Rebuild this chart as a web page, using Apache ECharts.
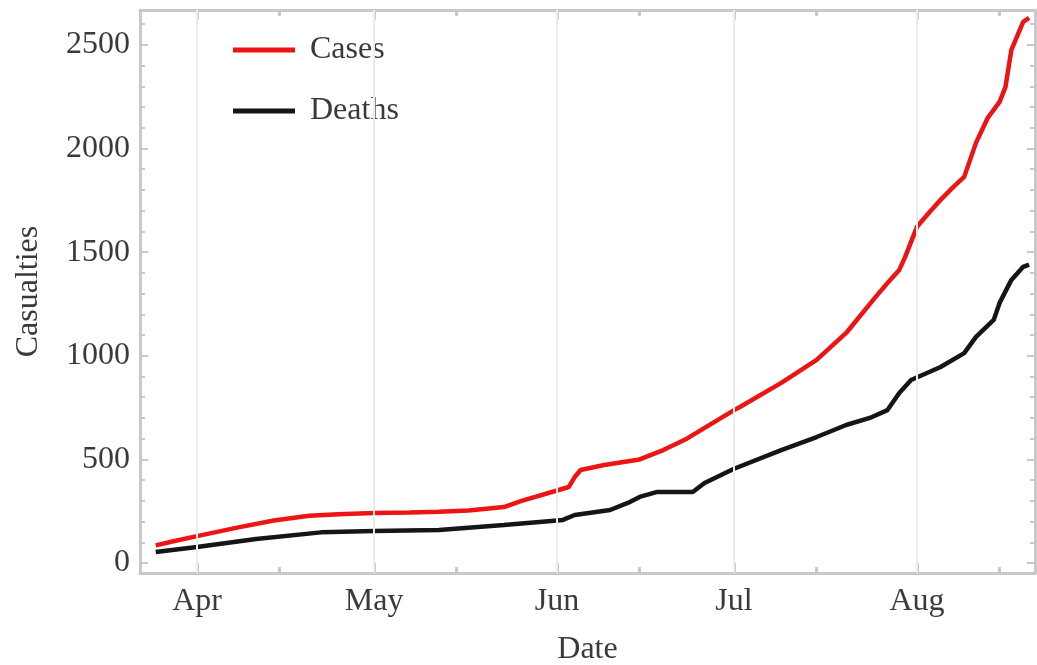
<!DOCTYPE html>
<html>
<head>
<meta charset="utf-8">
<title>Casualties</title>
<script src="https://cdn.jsdelivr.net/npm/echarts@6/dist/echarts.min.js"></script>
<style>
  html, body { margin: 0; padding: 0; background: #fff; }
  #chart { width: 1037px; height: 665px; }
</style>
</head>
<body>
<div id="chart"></div>
<script>
// values
const caseDates = ['2020-03-25', '2020-03-28', '2020-04-01', '2020-04-08', '2020-04-14', '2020-04-20', '2020-04-25',
  '2020-05-01', '2020-05-07', '2020-05-12', '2020-05-17', '2020-05-23', '2020-05-26', '2020-06-01', '2020-06-03',
  '2020-06-04', '2020-06-05', '2020-06-09', '2020-06-15', '2020-06-19', '2020-06-23', '2020-07-01', '2020-07-02',
  '2020-07-09', '2020-07-15', '2020-07-20', '2020-07-25', '2020-07-27', '2020-07-29', '2020-07-30', '2020-08-01',
  '2020-08-03', '2020-08-05', '2020-08-07', '2020-08-09', '2020-08-11', '2020-08-13', '2020-08-15', '2020-08-16',
  '2020-08-17', '2020-08-19', '2020-08-20'];
const caseValues = [85, 105, 130, 172, 205, 228, 236,
  241, 244, 247, 254, 270, 300, 350, 367,
  415, 449, 473, 500, 545, 600, 738, 753,
  869, 980, 1110, 1284, 1351, 1414, 1477, 1622,
  1689, 1752, 1810, 1863, 2027, 2148, 2225, 2297,
  2476, 2611, 2630];

const deathDates = ['2020-03-25', '2020-04-01', '2020-04-11', '2020-04-22', '2020-05-01', '2020-05-12', '2020-05-23',
  '2020-06-02', '2020-06-04', '2020-06-10', '2020-06-13', '2020-06-15', '2020-06-18', '2020-06-24', '2020-06-26',
  '2020-07-01', '2020-07-09', '2020-07-15', '2020-07-20', '2020-07-24', '2020-07-27', '2020-07-29', '2020-07-31',
  '2020-08-05', '2020-08-09', '2020-08-11', '2020-08-14', '2020-08-15', '2020-08-17', '2020-08-19', '2020-08-20'];
const deathValues = [53, 77, 116, 148, 155, 160, 183,
  208, 232, 256, 290, 319, 343, 343, 386,
  455, 545, 608, 666, 700, 738, 820, 883,
  946, 1013, 1091, 1173, 1255, 1366, 1429, 1440];

const monthTicks = ['2020-04-01', '2020-05-01', '2020-06-01', '2020-07-01', '2020-08-01'];
const midMonthTicks = ['2020-04-15', '2020-05-15', '2020-06-15', '2020-07-15', '2020-08-15'];
const monthNames = ['Jan', 'Feb', 'Mar', 'Apr', 'May', 'Jun', 'Jul', 'Aug', 'Sep', 'Oct', 'Nov', 'Dec'];
const yTicks = [0, 500, 1000, 1500, 2000, 2500];
const yMinorTicks = [0, 100, 200, 300, 400, 500, 600, 700, 800, 900, 1000, 1100, 1200, 1300,
  1400, 1500, 1600, 1700, 1800, 1900, 2000, 2100, 2200, 2300, 2400, 2500, 2600];

const ts = s => +echarts.time.parse(s);
const font = 'Liberation Serif';
const axisGray = '#c9c9c9';

const chart = echarts.init(document.getElementById('chart'));

const xMin = ts('2020-03-22 08:00');
const xMax = ts('2020-08-21');
const yMin = -48;
const yMax = 2668;

// dates are kept as timestamps on a value axis so the tick lists can be given directly
const xAxisPart = (position, ticks, len, withLabels, withLine) => ({
  type: 'value',
  position: position,
  min: xMin,
  max: xMax,
  axisLine: { show: withLine, onZero: false, lineStyle: { color: axisGray, width: 3 } },
  axisTick: { show: true, inside: true, length: len, customValues: ticks.map(ts),
    lineStyle: { color: axisGray, width: 3 } },
  axisLabel: withLabels ? {
    show: true, customValues: ticks.map(ts), margin: 13,
    fontFamily: font, fontSize: 32, color: '#3a3a3a',
    formatter: v => monthNames[new Date(v).getMonth()]
  } : { show: false },
  splitLine: { show: false },
  name: withLabels ? 'Date' : '',
  nameLocation: 'middle',
  nameGap: 61,
  nameTextStyle: { fontFamily: font, fontSize: 32, color: '#3a3a3a' }
});

const yAxisPart = (position, ticks, len, withLabels, withLine) => ({
  type: 'value',
  position: position,
  min: yMin,
  max: yMax,
  axisLine: { show: withLine, onZero: false, lineStyle: { color: axisGray, width: 3 } },
  axisTick: { show: true, inside: true, length: len, customValues: ticks,
    lineStyle: { color: axisGray, width: 2 } },
  axisLabel: withLabels ? {
    show: true, customValues: ticks, margin: 10,
    fontFamily: font, fontSize: 32, color: '#3a3a3a',
    formatter: v => String(v)
  } : { show: false },
  splitLine: { show: false },
  name: withLabels ? 'Casualties' : '',
  nameLocation: 'middle',
  nameRotate: 90,
  nameGap: 95,
  nameTextStyle: { fontFamily: font, fontSize: 32, color: '#3a3a3a' }
});

const option = {
  backgroundColor: '#fff',
  animation: false,
  grid: { left: 140, right: 2, top: 10, bottom: 92, containLabel: false, outerBoundsMode: 'none' },
  legend: {
    data: ['Cases', 'Deaths'],
    orient: 'vertical',
    left: 228,
    top: 29,
    itemWidth: 62,
    itemHeight: 5,
    itemGap: 29,
    icon: 'rect',
    textStyle: { fontFamily: font, fontSize: 32, color: '#3a3a3a', padding: [0, 0, 0, 10] }
  },
  xAxis: [
    xAxisPart('bottom', monthTicks, 10, true, true),
    xAxisPart('bottom', midMonthTicks, 6, false, false),
    xAxisPart('top', monthTicks, 10, false, true),
    xAxisPart('top', midMonthTicks, 6, false, false)
  ],
  yAxis: [
    yAxisPart('left', yTicks, 8, true, true),
    yAxisPart('left', yMinorTicks, 5, false, false),
    yAxisPart('right', yTicks, 8, false, true),
    yAxisPart('right', yMinorTicks, 5, false, false)
  ],
  series: [
    {
      name: 'gridlines',
      type: 'line',
      z: 1,
      data: [],
      markLine: {
        silent: true,
        symbol: ['none', 'none'],
        label: { show: false },
        lineStyle: { color: '#ececec', width: 2, type: 'solid' },
        data: monthTicks.map(d => ({ xAxis: ts(d) }))
      }
    },
    {
      name: 'Deaths',
      type: 'line',
      showSymbol: false,
      symbol: 'none',
      color: '#151515',
      lineStyle: { color: '#151515', width: 4.5 },
      data: deathDates.map((d, i) => [ts(d), deathValues[i]])
    },
    {
      name: 'Cases',
      type: 'line',
      showSymbol: false,
      symbol: 'none',
      color: '#ec1414',
      lineStyle: { color: '#ec1414', width: 4.5 },
      data: caseDates.map((d, i) => [ts(d), caseValues[i]])
    }
  ]
};

chart.setOption(option);
window.addEventListener('resize', () => chart.resize());
</script>
</body>
</html>
